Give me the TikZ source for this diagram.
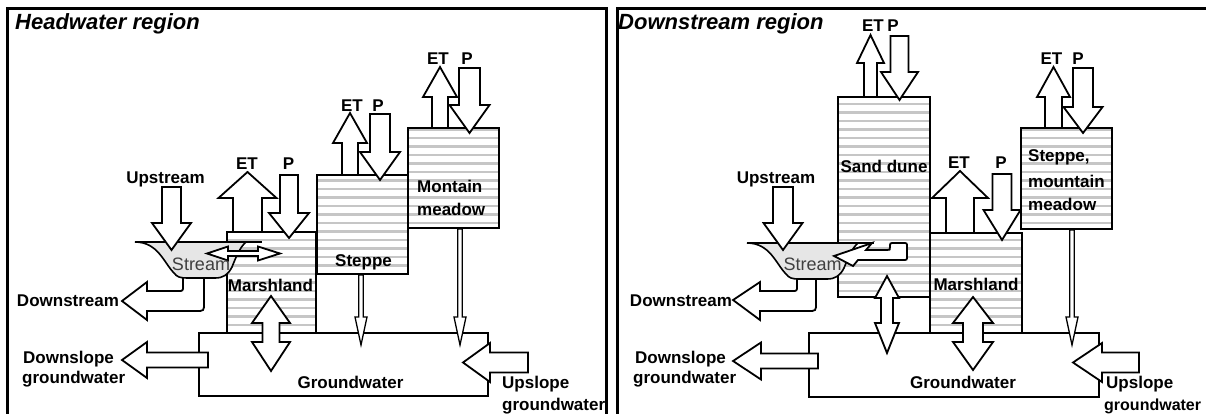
\documentclass[tikz,border=0pt]{standalone}
\usepackage{fontspec}
\setmainfont{Liberation Sans}
\definecolor{hatchgray}{RGB}{198,198,198}
\definecolor{streamfill}{RGB}{230,230,230}
\tikzset{
  blk/.style={draw=black, fill=white, line width=1.8pt, line join=miter},
  thinarr/.style={draw=black, fill=white, line width=1.3pt, line join=miter},
  box/.style={draw=black, line width=2.2pt, inner sep=0pt, outer sep=0pt, anchor=north west},
  frame/.style={draw=black, line width=3pt},
  lab/.style={font=\fontsize{17}{20}\selectfont\bfseries, inner sep=0pt, anchor=base},
  labl/.style={lab, anchor=base west},
  ttl/.style={font=\fontsize{22}{25}\selectfont\bfseries\itshape, inner sep=0pt, anchor=base west},
  strm/.style={font=\fontsize{18}{20}\selectfont, text=black!75, inner sep=0pt, anchor=base},
  hatchline/.style={line width=2.9pt, draw=hatchgray},
  streamshape/.style={draw=black, fill=streamfill, line width=1.6pt},
}
\newcommand{\hatchrect}[4]{\begin{scope}\clip (#1,#2) rectangle (#3,#4);
  \foreach \k in {0,...,48}{\draw[hatchline] (#1,{2+8.5*\k}) -- (#3,{2+8.5*\k});}\end{scope}}
\newcommand{\blkup}[7][blk]{\draw[#1] (#2,#3) -- ({#2+#6},#4) -- ({#2+#7},#4) -- ({#2+#7},#5) -- ({#2-#7},#5) -- ({#2-#7},#4) -- ({#2-#6},#4) -- cycle;}
\newcommand{\blkdown}[7][blk]{\draw[#1] ({#2-#7},#3) -- ({#2+#7},#3) -- ({#2+#7},#4) -- ({#2+#6},#4) -- (#2,#5) -- ({#2-#6},#4) -- ({#2-#7},#4) -- cycle;}
\newcommand{\blkleft}[6]{\draw[blk] (#1,#2) -- (#3,{#2-#5}) -- (#3,{#2-#6}) -- (#4,{#2-#6}) -- (#4,{#2+#6}) -- (#3,{#2+#6}) -- (#3,{#2+#5}) -- cycle;}
\newcommand{\blkvv}[7]{\draw[blk] (#1,#2) -- ({#1+#6},#3) -- ({#1+#7},#3) -- ({#1+#7},#4) -- ({#1+#6},#4) -- (#1,#5) -- ({#1-#6},#4) -- ({#1-#7},#4) -- ({#1-#7},#3) -- ({#1-#6},#3) -- cycle;}
\newcommand{\blkhh}[7]{\draw[blk] (#1,#2) -- (#3,{#2-#6}) -- (#3,{#2-#7}) -- (#4,{#2-#7}) -- (#4,{#2-#6}) -- (#5,#2) -- (#4,{#2+#6}) -- (#4,{#2+#7}) -- (#3,{#2+#7}) -- (#3,{#2+#6}) -- cycle;}
\newcommand{\streampath}{%
  \draw[streamshape] (135,242) .. controls (158,242) and (164,263) .. (174,273) .. controls (177,277) and (180,278) .. (187,278) -- (215,278) .. controls (223,278) and (228,275) .. (232,267) .. controls (236,257) and (240,247) .. (246,242) -- cycle;
  \draw[line width=1.6pt] (135,242) -- (262,242);}
\begin{document}
\begin{tikzpicture}[x=1pt, y=-1pt]
\clip (0,0) rectangle (1206,414);
\fill[white] (0,0) rectangle (1206,414);
% frames
\draw[frame] (7,430) -- (7,9) -- (606,9) -- (606,430);
\draw[frame] (617,430) -- (617,9) -- (1215,9);
% ================= LEFT PANEL =================
\node[ttl] (t1) at (15,30) {Headwater region};
\hatchrect{227}{232}{316}{333}
\hatchrect{317}{175}{408}{274}
\hatchrect{408}{128}{499}{228}
\node[box, minimum width=89pt, minimum height=101pt] (marshL) at (227,232) {};
\node[box, minimum width=91pt, minimum height=99pt] (steppeL) at (317,175) {};
\node[box, minimum width=91pt, minimum height=100pt] (montL) at (408,128) {};
\node[box, minimum width=289pt, minimum height=63pt] (gwL) at (199,333) {};
\draw[blk] (183,277) -- (183,286) .. controls (183,291) .. (178,291) -- (147,291) -- (147,282) -- (122,301) -- (147,320) -- (147,311) -- (196,311) .. controls (204,311) .. (204,303) -- (204,277) -- cycle;
\streampath
\blkdown{171.5}{187}{223}{250}{19.5}{9.5}
\blkup{247.5}{172}{198}{232}{29}{14.5}
\blkdown{289}{175}{213}{238}{20}{9}
\blkup{350}{113}{143}{175}{17}{8}
\blkdown{380}{114}{152}{180}{20}{10}
\blkup{440}{67}{97}{128}{17}{8}
\blkdown{469.5}{68}{105}{133}{20}{10.5}
\blkdown[thinarr]{361}{275}{317}{345}{6}{2.2}
\blkdown[thinarr]{460}{229}{317}{345}{6}{2.2}
\blkhh{207}{253.5}{228}{258}{280}{7}{2.5}
\blkvv{271}{296}{323}{342}{371}{19}{8.5}
\blkleft{122}{360}{147}{208}{18}{7.5}
\blkleft{463}{362.5}{490}{528}{19.5}{10}
\node[lab] (upL) at (165.5,183) {Upstream};
\node[lab] (etML) at (247,170) {ET};
\node[lab] (pML) at (288.5,170) {P};
\node[lab] (etSL) at (352,112) {ET};
\node[lab] (pSL) at (378,112) {P};
\node[lab] (etMoL) at (438,65) {ET};
\node[lab] (pMoL) at (467,65) {P};
\node[labl] (montL1) at (417,192) {Montain};
\node[labl] (montL2) at (417,215) {meadow};
\node[lab] (stepL) at (363.5,266) {Steppe};
\node[lab] (marL) at (270.5,291) {Marshland};
\node[strm] (strL) at (201,270) {Stream};
\node[lab] (dsL) at (68,306) {Downstream};
\node[labl] (dslL1) at (23,363) {Downslope};
\node[labl] (dslL2) at (22,383) {groundwater};
\node[lab] (gwtL) at (350.5,388) {Groundwater};
\node[labl] (uslL1) at (502,388) {Upslope};
\node[labl] (uslL2) at (502,410) {groundwater};
% ================= RIGHT PANEL =================
\node[ttl] (t2) at (618,30) {Downstream region};
\hatchrect{838}{97}{930}{297}
\hatchrect{930}{233}{1022}{333}
\hatchrect{1021}{128}{1112}{229}
\node[box, minimum width=92pt, minimum height=200pt] (sandR) at (838,97) {};
\node[box, minimum width=92pt, minimum height=100pt] (marshR) at (930,233) {};
\node[box, minimum width=91pt, minimum height=101pt] (stepR) at (1021,128) {};
\node[box, minimum width=290pt, minimum height=64pt] (gwR) at (809,333) {};
\draw[blk] (797,278) -- (797,286) .. controls (797,291) .. (792,291) -- (760,291) -- (760,282) -- (733,300) -- (760,320) -- (760,311) -- (808,311) .. controls (816,311) .. (816,303) -- (816,278) -- cycle;
\begin{scope}[shift={(612,1)}]
\streampath
\end{scope}
\draw[blk] (834,256) -- (872,243) -- (866,250) -- (887,250) .. controls (890,250) .. (890,247) .. controls (890,243) .. (894,243) -- (903,243) .. controls (907,243) .. (907,247) -- (907,256) .. controls (907,260) .. (903,260) -- (858,260) -- (853,266) -- cycle;
\blkdown{783}{187}{223}{250}{19.5}{10}
\blkup{870.5}{35}{63}{97}{13.5}{6.5}
\blkdown{899.5}{36}{72}{100}{18.5}{9}
\blkup{960}{171}{198}{233}{28}{14}
\blkdown{1002}{174}{210}{240}{18.5}{9.5}
\blkup{1053.5}{67}{97}{128}{16.5}{8.5}
\blkdown{1083}{68}{107}{133}{19.5}{10}
\blkdown[thinarr]{1072}{230}{317}{345}{6}{2.2}
\blkvv{887}{276}{298}{323}{353}{12}{6}
\blkvv{973}{297}{323}{342}{370}{20}{10}
\blkleft{733}{361}{761}{818}{18.5}{7.5}
\blkleft{1073}{362.5}{1102}{1139}{19.5}{10}
\node[lab] (etSR) at (873,32) {ET};
\node[lab] (pSR) at (893,32) {P};
\node[lab] (sandt) at (884,173) {Sand dune};
\node[lab] (upR) at (776,183) {Upstream};
\node[strm] (strR) at (812.5,270) {Stream};
\node[lab] (etMR) at (959,168) {ET};
\node[lab] (pMR) at (1001,168) {P};
\node[lab] (etStR) at (1051.5,65) {ET};
\node[lab] (pStR) at (1078,65) {P};
\node[lab] (marR) at (976,290) {Marshland};
\node[labl] (stR1) at (1028,162) {Steppe,};
\node[labl] (stR2) at (1028,187) {mountain};
\node[labl] (stR3) at (1028,210) {meadow};
\node[lab] (dsR) at (681,306) {Downstream};
\node[labl] (dslR1) at (635,363) {Downslope};
\node[labl] (dslR2) at (633,383) {groundwater};
\node[lab] (gwtR) at (963,388) {Groundwater};
\node[labl] (uslR1) at (1106,388) {Upslope};
\node[labl, font=\fontsize{16}{19}\selectfont\bfseries] (uslR2) at (1104,410) {groundwater};
\end{tikzpicture}
\end{document}
